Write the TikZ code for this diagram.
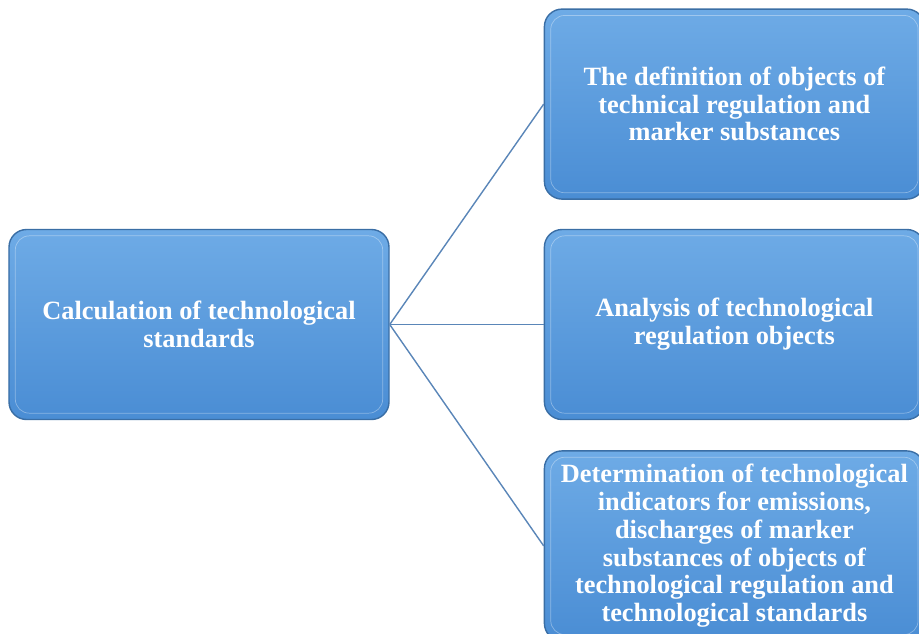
\documentclass[tikz,border=0pt]{standalone}
\usepackage{fontspec}
\setmainfont{Liberation Serif}
\usetikzlibrary{positioning}
\definecolor{boxtop}{HTML}{6EABE6}
\definecolor{boxbot}{HTML}{4A8DD4}
\definecolor{boxedge}{HTML}{3A6EA5}
\definecolor{linkblue}{HTML}{5A86B8}
\begin{document}
\begin{tikzpicture}
  \tikzstyle{stage}=[draw=boxedge, thick, rounded corners=10pt, top color=boxtop, bottom color=boxbot,
    minimum width=7.6cm, minimum height=3.8cm, align=center, text=white,
    font=\fontsize{15}{15.8}\selectfont\bfseries]
  \tikzstyle{link}=[linkblue, thick]
  \useasboundingbox (0,0) rectangle (18.38,-12.66);
  \clip (0,0) rectangle (18.38,-12.66);
  \node[stage] (calc) at (3.98,-6.49) {Calculation of technological\\standards};
  \node[stage, right=3.08cm of calc] (analysis) {Analysis of technological\\regulation objects};
  \node[stage, above=0.58cm of analysis] (define) {The definition of objects of\\technical regulation and\\marker substances};
  \node[stage, below=0.6cm of analysis] (determ) {Determination of technological\\indicators for emissions,\\discharges of marker\\substances of objects of\\technological regulation and\\technological standards};
  % bevel highlight
  \foreach \n in {calc, define, analysis, determ}
    \draw[white, opacity=.35, rounded corners=8pt] ([shift={(4pt,-4pt)}]\n.north west) rectangle ([shift={(-4pt,4pt)}]\n.south east);
  \draw[link] (calc.east) -- (define.west);
  \draw[link] (calc.east) -- (analysis.west);
  \draw[link] (calc.east) -- (determ.west);
\end{tikzpicture}
\end{document}
